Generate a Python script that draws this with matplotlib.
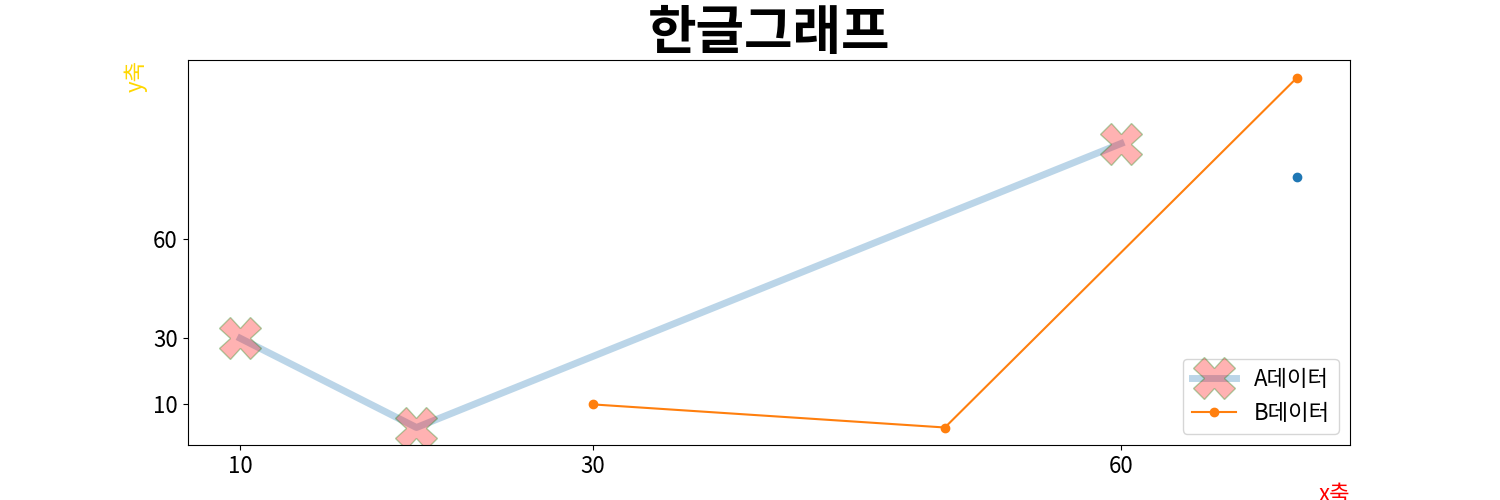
import matplotlib.pyplot as plt

plt.rcParams['font.family'] = ['Noto Sans CJK KR', 'DejaVu Sans']

# 데이터
a_x = [10, 20, 60]
a_y = [30, 3, 89]
b_x = [30, 50, 70]
b_y = [10, 3, 109]
dot_x = [70]
dot_y = [79]
ticks = [10, 30, 60]

fig = plt.figure(figsize=(15, 5), dpi=100)
ax = fig.add_subplot(111)

ax.plot(a_x, a_y, color='C0', linewidth=5, alpha=0.3,
        marker='X', markersize=30, markerfacecolor='red', markeredgecolor='green',
        label='A데이터')
ax.plot(b_x, b_y, color='C1', marker='o', label='B데이터')
ax.scatter(dot_x, dot_y, color='C0', zorder=3)

ax.set_xticks(ticks)
ax.set_yticks(ticks)
ax.tick_params(labelsize=16)

ax.set_title('한글그래프', fontsize=38, fontweight='bold')
ax.set_xlabel('x축', color='red', loc='right', fontsize=16)
ax.set_ylabel('y축', color='gold', loc='top', fontsize=16)
ax.legend(loc='lower right', fontsize=16)

plt.savefig('out.png')
